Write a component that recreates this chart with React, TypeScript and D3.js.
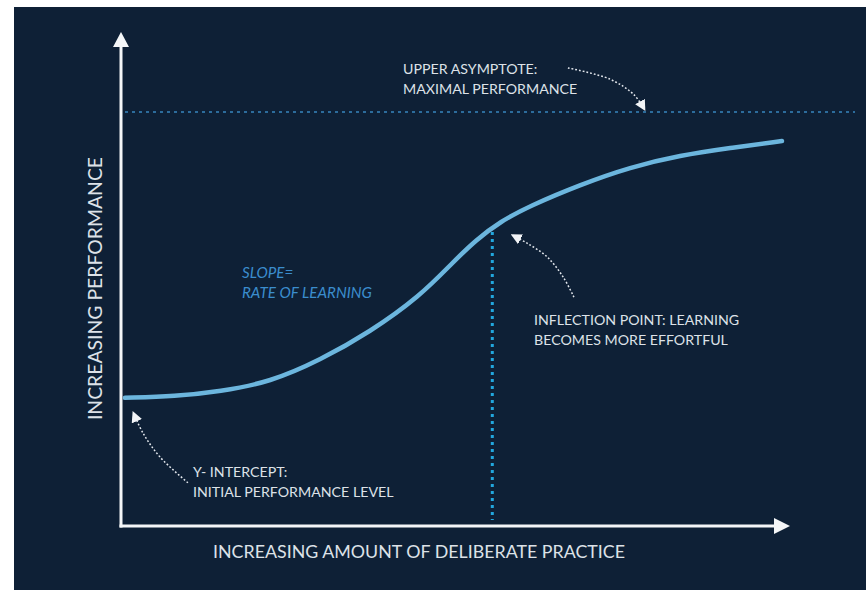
import React from 'react';
import { scaleLinear, line, curveCatmullRom, curveBasis } from 'd3';

// learning curve (0-10 units on both axes)
const practice = [0.06, 0.81, 1.48, 2.23, 2.98, 3.72, 4.47, 4.96, 5.31, 5.67, 6.11, 6.86, 7.61, 8.36, 9.1, 9.88];
const performance = [2.61, 2.64, 2.74, 2.93, 3.38, 3.95, 4.68, 5.37, 5.83, 6.2, 6.52, 6.95, 7.31, 7.55, 7.7, 7.84];

const asymptote = 8.43;
const inflectionX = 5.55;
const inflectionY = 6.07;

// curved pointer arrows
const upperArrow = [[6.68, 9.33], [7.31, 9.1], [7.67, 8.78], [7.83, 8.47]];
const inflectionArrow = [[6.77, 4.66], [6.61, 5.07], [6.37, 5.48], [6.07, 5.76], [5.84, 5.93]];
const interceptArrow = [[1.0, 0.88], [0.58, 1.41], [0.33, 1.89], [0.18, 2.32]];

const upperLabel = ['UPPER ASYMPTOTE:', 'MAXIMAL PERFORMANCE'];
const inflectionLabel = ['INFLECTION POINT: LEARNING', 'BECOMES MORE EFFORTFUL'];
const interceptLabel = ['Y- INTERCEPT:', 'INITIAL PERFORMANCE LEVEL'];
const slopeLabel = ['SLOPE=', 'RATE OF LEARNING'];
const xTitle = 'INCREASING AMOUNT OF DELIBERATE PRACTICE';
const yTitle = 'INCREASING PERFORMANCE';

const W = 866;
const H = 590;
const FONT = 'Lato, "Open Sans", sans-serif';
const TEXT = '#dde2e8';

const App = () => {
  const x = scaleLinear().domain([0, 10]).range([121, 790]);
  const y = scaleLinear().domain([0, 10]).range([526, 35]);

  const curve = line<number>()
    .x((d, i) => x(practice[i]))
    .y(d => y(d))
    .curve(curveBasis);

  const pointer = line<number[]>()
    .x(d => x(d[0]))
    .y(d => y(d[1]))
    .curve(curveCatmullRom);

  const x0 = x(0);
  const y0 = y(0);

  const twoLines = (lines: string[], left: number, top: number, extra = {}) => (
    <text x={left} y={top} fill={TEXT} fontSize={14.2} fontFamily={FONT} {...extra}>
      {lines.map((l, i) => (
        <tspan key={i} x={left} dy={i === 0 ? 0 : 20}>{l}</tspan>
      ))}
    </text>
  );

  return (
    <svg width={W} height={H} style={{ position: 'fixed', left: 0, top: 0 }}>
      <defs>
        <marker id="head" viewBox="0 0 10 10" refX="9" refY="5" markerWidth="11" markerHeight="11"
          markerUnits="userSpaceOnUse" orient="auto">
          <path d="M0,0 L10,5 L0,10 z" fill="#f2f4f7" />
        </marker>
      </defs>
      <rect x={0} y={0} width={W} height={H} fill="#ffffff" />
      <rect x={14} y={7} width={W - 14} height={H - 7} fill="#0e2036" />

      {/* upper asymptote */}
      <line x1={x0 + 4} x2={855} y1={y(asymptote)} y2={y(asymptote)}
        stroke="#2c6c9c" strokeWidth={2} strokeDasharray="3 4" />

      {/* inflection drop line */}
      <line x1={x(inflectionX)} x2={x(inflectionX)} y1={y(inflectionY) + 4} y2={y0 - 6}
        stroke="#22a7de" strokeWidth={3} strokeDasharray="3 4" />

      {/* axes */}
      <line x1={x0} x2={x0} y1={y0 + 1.5} y2={47} stroke="#f4f6f8" strokeWidth={3} />
      <path d={`M${x0 - 8},47 L${x0},32 L${x0 + 8},47 z`} fill="#f4f6f8" />
      <line x1={x0 - 1.5} x2={775} y1={y0} y2={y0} stroke="#f4f6f8" strokeWidth={3} />
      <path d={`M774,${y0 - 8} L790,${y0} L774,${y0 + 8} z`} fill="#f4f6f8" />

      {/* learning curve */}
      <path d={curve(performance) || ''} fill="none" stroke="#6cb6de" strokeWidth={4.5} strokeLinecap="round" />

      {/* pointers */}
      {[upperArrow, inflectionArrow, interceptArrow].map((a, i) => (
        <path key={i} d={pointer(a) || ''} fill="none" stroke="#e4e8ee" strokeWidth={1.5}
          strokeDasharray="1.8 2" markerEnd="url(#head)" />
      ))}

      {twoLines(upperLabel, 403, 74)}
      {twoLines(inflectionLabel, 534, 325)}
      {twoLines(interceptLabel, 193, 477)}
      {twoLines(slopeLabel, 242, 278, { fill: '#3b8dcd', fontStyle: 'italic', fontSize: 15.2 })}

      <text x={213} y={558} fill={TEXT} fontSize={18} fontFamily={FONT}
        textLength={412} lengthAdjust="spacingAndGlyphs">{xTitle}</text>
      <text transform="translate(102,288.5) rotate(-90)" textAnchor="middle" fill={TEXT}
        fontSize={19.4} fontFamily={FONT}>{yTitle}</text>
    </svg>
  );
};

export default App;
